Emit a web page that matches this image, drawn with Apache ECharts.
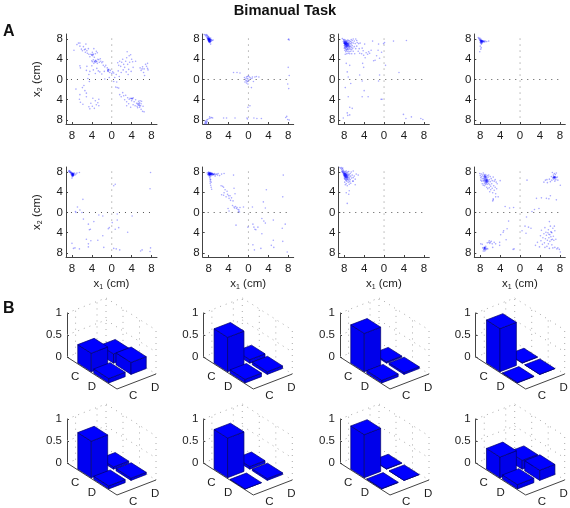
<!DOCTYPE html>
<html><head><meta charset="utf-8">
<style>html,body{margin:0;padding:0;background:#fff}#c{width:570px;height:508px}</style>
<script src="https://cdn.jsdelivr.net/npm/echarts@6/dist/echarts.min.js"></script>
</head><body><div id="c"></div>
<script>
const title = 'Bimanual Task';
const cats = ['C', 'D'];
const ticks = [-8, -4, 0, 4, 8];
// bar heights: [CC, CD, DC, DD]
const bars1 = [0.42, 0.21, 0.10, 0.27];
const bars2 = [0.78, 0.08, 0.08, 0.06];
const bars3 = [0.87, 0.03, 0.06, 0.04];
const bars4 = [0.98, 0.01, 0.01, 0.00];
const bars5 = [0.83, 0.05, 0.07, 0.05];
const bars6 = [0.90, 0.06, 0.00, 0.04];
const bars7 = [0.98, 0.01, 0.01, 0.00];
const bars8 = [0.47, 0.20, 0.10, 0.23];
const scatter1 = [[-7.6,5.8],[-7,6.9],[-6.7,7.2],[-6.4,7.2],[-6.4,6.6],[-6.1,6],[-5.9,5.7],[-5.7,6.5],[-5.5,5.9],[-5.3,6],[-5.2,7],[-5.3,5.4],[-5,5.7],[-4.9,5.2],[-4.7,6.1],[-4.6,5],[-4.4,4.5],[-4.2,5],[-4,4.9],[-3.9,5.4],[-3.8,4.7],[-3.7,5],[-3.6,6.1],[-3.5,4.4],[-3.3,5.1],[-3.1,5.6],[-2.9,5.3],[-4,3.7],[-3.9,3.5],[-3.7,3.9],[-3.6,3.2],[-3.4,3.6],[-3.3,3.4],[-3.2,3.8],[-3,3.6],[-2.9,3.2],[-2.8,4],[-2.6,3.9],[-2.5,3.4],[-2.3,4.1],[-2.2,3.6],[-2,3.3],[-1.8,3.5],[-1.7,2.8],[-1.4,2.5],[-1.2,2.8],[-0.9,2.3],[-0.8,1.9],[-0.7,1.6],[-0.6,2],[-0.4,1.4],[-0.3,1.8],[0,1.2],[0.2,1.5],[0.4,1.3],[-6.4,2.7],[-6.3,2.3],[-5,2.6],[-5.1,1.8],[-4.6,1],[-4.4,1.6],[-4,2.7],[-3.7,1.9],[-3.3,1.2],[-3,2.2],[-2.7,1.7],[-2.4,1.5],[-2,1.1],[-1.5,1.6],[-4.8,0.2],[-4.5,-0.4],[1.2,3.3],[1.4,2.8],[1.6,3.6],[1.8,2.6],[2,3.4],[2.2,4],[2.4,3],[2.6,2.4],[2.8,3.6],[3,4.3],[3.1,5.5],[3.2,3],[3.4,2],[3.5,4.7],[3.6,3.4],[3.8,4.9],[4,4],[4.2,3.5],[4.3,2.4],[4.8,3.6],[1.3,1.7],[1.9,1.4],[2.3,1.9],[2.9,1.5],[3.3,1],[3.9,1.6],[0.9,1],[1.5,0.6],[5.7,2.3],[5.9,1.8],[6.2,2.5],[6.4,1.4],[6.5,2.1],[6.6,0.8],[6.8,3],[7,2.6],[7.2,3.2],[7.3,1.9],[7.2,2.2],[6.1,2.1],[-7.2,-1.9],[-5.9,-1.6],[-5.6,-1.2],[-5.4,-2.2],[-5.1,-2.7],[-6.4,-3],[-6.5,-3.9],[-6.3,-4.5],[-5.8,-4.9],[-5.1,-3.4],[-4.6,-5.4],[-4.4,-5.8],[-4.2,-4.7],[-3.9,-5.3],[-3.8,-3.7],[-3.5,-5.7],[-3.3,-4.2],[-3.1,-5],[-2.8,-4.6],[-2.6,-5.2],[-2.6,-3.9],[0.8,-1.5],[1.1,-1.6],[1.4,-1.7],[1.6,-3],[1.9,-3.4],[2.2,-2.6],[2.4,-3.2],[2.6,-4],[2.8,-3.1],[3,-4.4],[3.2,-3.6],[3.4,-4.8],[3.5,-3.9],[3.7,-3.7],[3.9,-3.8],[4,-4.2],[4.1,-3.8],[4.3,-3.6],[4.3,-5],[4.5,-4.4],[4.7,-5.2],[4.8,-4],[5,-4.7],[5.1,-5.3],[5.2,-4.9],[5.2,-5.6],[5.4,-4.3],[5.5,-5],[5.6,-4.6],[5.6,-5.5],[5.7,-4.2],[5.8,-5.2],[5.9,-5.9],[5.9,-4.8],[6,-4.3],[6.2,-6.3],[6.5,-6.4],[6.3,-5.3],[3.8,-5.5],[3,-5.2],[0.4,-0.4],[0.6,0.4],[1,-0.5],[-0.5,0.4],[-1.4,0.1],[-4,4.8],[-3.8,5],[-3.5,3.5],[-3.3,3.7],[-3.1,3.5],[-0.8,1.7],[-0.7,1.9],[4,-3.7],[4.2,-3.8],[5.4,-5.1],[5.5,-4.8],[5.3,-4.7],[5.6,-5.2]];
const scatter2 = [[-8.9,8.9],[-8.7,8.8],[-8.6,8.6],[-8.5,8.9],[-8.4,8.7],[-8.4,8.4],[-8.3,8.8],[-8.3,8.2],[-8.2,8.6],[-8.2,8.3],[-8.1,8.5],[-8.1,8.1],[-8.1,7.9],[-8,8.4],[-8,8.2],[-8,8],[-8,7.9],[-8,7.7],[-8,7.5],[-7.9,8.3],[-7.9,8],[-7.9,7.9],[-7.9,7.8],[-7.9,7.6],[-7.9,7.4],[-7.8,8.1],[-7.8,7.9],[-7.8,7.7],[-7.8,7.5],[-7.8,7.3],[-7.7,8],[-7.7,7.8],[-7.7,7.6],[-7.7,7.4],[-7.6,8.2],[-7.6,7.8],[-7.6,7.5],[-7.5,7.9],[-7.5,7.6],[-7.4,7.8],[-7.3,7.7],[-7.1,7.8],[-7.6,7],[-8.1,8],[-8.1,7.8],[-8,7.8],[-8,7.6],[-7.9,7.7],[-7.9,7.5],[-7.8,7.8],[-7.8,7.6],[-7.7,7.7],[-7.7,7.5],[-8,8.1],[-7.9,8.1],[-8.2,8],[-8.2,8.1],[-7.9,7.9],[-7.8,8],[-7.8,7.9],[-7.7,7.9],[-8,7.9],[-8.1,7.7],[-8.8,-8.7],[-8.7,-8.4],[-8.6,-8.6],[-8.6,-8.2],[-8.5,-8.8],[-8.5,-8.4],[-8.4,-8.6],[-8.4,-8],[-8.3,-8.3],[-8.2,-7.9],[-7.9,-7.7],[-7.8,-7.4],[-7.6,-7.6],[-7.4,-7.5],[-7.2,-7.6],[-5,-7.6],[-4.4,-7.6],[-2.7,-7.6],[-0.3,-7.6],[-0.2,-7.8],[1.1,-7.6],[1.7,-7.7],[2.6,-7.7],[7.5,-7.5],[7.7,-7.3],[7.9,-7.9],[8.2,-8],[8.1,8],[8.2,7.8],[8,7.9],[8,2.4],[7.9,-0.9],[8.2,0.8],[8.1,-1.8],[-3,1.4],[-2.3,1.4],[-1.7,1.3],[-0.8,0.4],[-0.7,-0.5],[-0.6,0.1],[-0.5,-0.2],[-0.4,0.5],[-0.4,-0.7],[-0.3,-0.3],[-0.3,0.2],[-0.2,0.6],[-0.2,-0.4],[-0.1,0.1],[-0.1,-0.9],[0,0.7],[0.1,-0.2],[0.2,0.5],[0.4,0.3],[0.7,0.2],[0.8,0.5],[1,-0.4],[1.3,0.5],[1.6,0.6],[2.1,0.5],[0.6,-1.6],[0.3,-5.2],[-0.1,-5.5]];
const scatter3 = [[-8.4,8.1],[-8.2,7.9],[-8.2,7.5],[-8.1,7.7],[-8.1,7.2],[-8,7.9],[-8,7.5],[-8,7.1],[-8,6.7],[-8,6.2],[-7.9,7.6],[-7.9,7.3],[-7.9,7.1],[-7.9,6.8],[-7.9,6.4],[-7.9,5.8],[-7.8,7.8],[-7.8,7.4],[-7.8,7],[-7.8,6.6],[-7.8,6.2],[-7.8,5],[-7.7,7.5],[-7.7,7.2],[-7.7,6.9],[-7.7,6.5],[-7.7,6],[-7.7,5.5],[-7.6,7.7],[-7.6,7.3],[-7.6,7],[-7.6,6.7],[-7.6,6.3],[-7.6,5.7],[-7.5,7.4],[-7.5,7.1],[-7.5,6.8],[-7.5,6.4],[-7.5,5.9],[-7.5,5.1],[-7.4,7.6],[-7.4,7.2],[-7.4,6.9],[-7.4,6.5],[-7.4,6],[-7.3,7.8],[-7.3,7.1],[-7.3,6.6],[-7.3,6.1],[-7.3,5.6],[-7.2,7.4],[-7.2,7],[-7.2,6.4],[-7.2,5.2],[-7.1,7.7],[-7.1,7.1],[-7.1,6.7],[-7.1,5.9],[-7,7.3],[-7,6.8],[-7,6.2],[-7,5.5],[-6.9,7.6],[-6.9,6.5],[-6.9,5.1],[-6.8,7.1],[-6.8,6],[-6.7,7.5],[-6.7,6.6],[-6.7,5.6],[-6.6,7.9],[-6.6,7],[-6.6,6.3],[-6.5,7.3],[-6.5,5.9],[-6.5,5.1],[-6.4,7.7],[-6.4,6.7],[-6.3,6.2],[-6.2,8],[-6.2,7.2],[-6.2,5.6],[-6,7.6],[-6,6.5],[-5.9,5.1],[-5.8,7.1],[-5.7,8],[-5.7,6.1],[-5.5,7.7],[-5.5,6.6],[-5.4,7.3],[-5.2,5.6],[-5.1,7.1],[-5,6.1],[-4.9,5.2],[-4.8,7.2],[-4.5,5.1],[-4.4,6.2],[-4.2,5.7],[-4.1,4.8],[-3.9,7],[-3.8,4.3],[-3.6,5.3],[-3.3,5],[-3.1,5.5],[-2.9,5.2],[-2.6,5.8],[-2.3,7.6],[-2.1,3.7],[-1.8,3.8],[-1.5,4.7],[-1.2,5.8],[-1.1,7],[-0.9,4.2],[-0.5,5.4],[-4.3,3.2],[-4.1,2.4],[-7.6,3.2],[-6.9,2.8],[-7.4,1.5],[-7.2,0.5],[-6.7,-0.8],[-7.8,-1.6],[-7.2,-3.4],[-4,-2.2],[-4.4,-3.4],[-3.2,-3.4],[-0.6,-3.9],[-0.4,-3.9],[-6.9,-5.5],[-6.4,-5.7],[-7.4,-6.6],[-6.9,-7],[-7.3,-7.1],[-8.2,-7.6],[3.9,-6.9],[4.4,-7.7],[5.5,-7.4],[7.4,-7.7],[7.8,-7.9],[3,1.4],[4.5,7.7],[1.9,7.6],[-0.1,7.1],[0.1,7.3],[0.3,2.8],[-4.9,0.9],[-4.4,-0.3],[-1.1,-0.3],[-0.9,0.9],[-8,7.3],[-8,7.2],[-7.9,7.5],[-7.9,7.2],[-7.9,7],[-7.8,7.2],[-7.8,7.1],[-7.8,6.9],[-7.7,7.4],[-7.7,7.1],[-7.7,7],[-7.7,6.8],[-7.6,7.4],[-7.6,7.2],[-7.6,6.9],[-7.6,6.6],[-7.5,7.2],[-7.5,7],[-7.5,6.7],[-7.4,7.1],[-7.4,6.7],[-7.3,7],[-7.3,6.8],[-7.2,6.7],[-7.1,6.9],[-7,6.5]];
const scatter4 = [[-8.4,8.3],[-8.3,8.1],[-8.2,8],[-8.1,8.2],[-8.1,7.8],[-8,7.9],[-8,7.6],[-8,7.3],[-7.9,8],[-7.9,7.7],[-7.9,7.5],[-7.9,7.2],[-7.8,7.8],[-7.8,7.6],[-7.8,7.5],[-7.8,7.4],[-7.8,7],[-7.7,7.7],[-7.7,7.6],[-7.7,7.4],[-7.7,7.1],[-7.6,7.7],[-7.6,7.5],[-7.6,7.3],[-7.5,7.6],[-7.5,7.4],[-7.4,7.6],[-7.4,7.5],[-7.3,7.5],[-7.2,7.6],[-7.1,7.4],[-7,7.6],[-6.7,7.5],[-6.3,7.6],[-8,6.6],[-7.8,6.3],[-8.1,5.5],[-7.9,6],[-7.9,7.6],[-7.8,7.7],[-7.7,7.5],[-7.6,7.6],[-7.8,7.3],[-8,7.7]];
const scatter5 = [[-8.7,8.1],[-8.6,8.3],[-8.5,8],[-8.4,7.9],[-8.4,8.2],[-8.3,8],[-8.2,7.8],[-8.2,7.6],[-8.1,7.7],[-8.1,7.9],[-8.1,7.4],[-8,7.8],[-8,7.7],[-8,7.5],[-8,7.4],[-8,7.2],[-7.9,7.7],[-7.9,7.6],[-7.9,7.5],[-7.9,7.3],[-7.9,7.1],[-7.8,7.8],[-7.8,7.6],[-7.8,7.4],[-7.8,7.2],[-7.7,7.7],[-7.7,7.5],[-7.7,7.3],[-7.6,7.6],[-8,7.6],[-7.9,7.4],[-7.8,7.5],[-7.8,7.3],[-7.7,7.6],[-7.7,7.4],[-8.5,8.2],[-8.3,7.9],[-8.2,8],[-7.9,7.7],[-7.9,7.5],[-7.8,7.6],[-7.8,7.4],[-7.5,7.8],[-7.4,7.4],[-7.2,7.6],[-7,7.8],[-6.5,7.9],[-8,6.8],[-6.9,1.1],[-6.4,0.5],[-7.2,0],[-7.3,0.2],[-5.8,2.6],[-5.7,-1.3],[-6,0],[-4.7,-2.3],[-3.6,-1.8],[-4.3,-3.3],[-4.5,-3.4],[-5.1,-5.3],[-4.2,-5.6],[-4.7,-6.8],[-4.7,-6.2],[-2.8,-5.5],[-1.8,-4.6],[-1.6,-6.9],[-8,-6.1],[-7.7,-7.1],[-6.5,-7.2],[-7.4,-7],[-0.5,-3],[-0.7,-3.2],[0.1,-2],[1.1,-1.5],[0.7,-3.3],[1.4,-3],[3.2,-3.9],[0.7,5.6],[0.4,5.3],[7.8,7.9],[7.7,4.7],[0.4,-7.1],[0.9,-7.2],[1.6,-7.4],[5.8,-7.6],[6.1,-7.4],[7.8,-7],[7.7,-7.7],[-1.8,-0.7],[4.1,-0.7],[1.1,-0.3],[-2.6,-0.5]];
const scatter6 = [[-8.3,7.8],[-8.2,7.5],[-8.1,7.9],[-8.1,7.6],[-8,8],[-8,7.7],[-8,7.4],[-7.9,7.8],[-7.9,7.6],[-7.9,7.5],[-7.9,7.2],[-7.8,7.9],[-7.8,7.7],[-7.8,7.5],[-7.8,7.3],[-7.8,6.9],[-7.7,7.8],[-7.7,7.6],[-7.7,7.4],[-7.7,6.6],[-7.7,6.2],[-7.7,5.8],[-7.6,7.9],[-7.6,7.7],[-7.6,7.5],[-7.6,7.1],[-7.6,6.5],[-7.6,5.4],[-7.5,7.6],[-7.5,7.4],[-7.5,6],[-7.5,5],[-7.4,7.8],[-7.4,7.6],[-7.4,4.6],[-7.3,7.6],[-7.3,7.4],[-7.2,7.7],[-7.1,7.5],[-7,7.6],[-6.9,7.5],[-6.8,7.7],[-6.7,7.2],[-6.6,7.5],[-6.4,7.6],[-6.2,7.4],[-6.1,7.7],[-8,7.8],[-8,7.6],[-7.9,7.7],[-7.9,7.4],[-7.8,7.8],[-7.8,7.6],[-7.7,7.7],[-7.7,7.5],[-7.6,7.6],[-7.5,7.7],[-7.5,7.5],[-7.4,7.7],[-7.3,7.7],[-7.2,7.5],[-7,7.5],[-7.9,7.6],[-7.8,7.7],[-7.7,7.6],[-7.6,7.6],[-5.8,7.3],[-5.4,7.6],[-4.9,7.7],[-3,7.4],[-5.5,5.3],[-5.2,5.2],[-5,5],[-5.4,3.5],[-5,3.4],[-4.9,3.9],[-4.7,4.5],[-4.5,3.1],[-4.3,4.2],[-4.2,3.6],[-4,3.3],[-3.9,2.8],[-3.7,3.3],[-3.6,2.4],[-3.4,2.9],[-3.2,1.4],[-3.1,2.3],[-2.9,1.1],[-2.8,0.9],[-2.6,1.2],[-2.4,0.8],[-2.3,1],[-2.1,0.6],[-2,0.2],[-1.9,0.5],[-1.8,0.1],[-1.7,1],[-4.1,0.8],[-3.9,0.3],[-2.9,4.8],[-2.7,3.7],[-1,1.1],[0.8,1.1],[3.4,0.9],[3.6,4.5],[3,2.1],[2.7,-1.2],[7,7.4],[6.9,3.1],[-2.5,-2.5],[-0.1,-2.9],[0.9,-2.3],[1.1,-2.9],[1.3,-3.3],[1.5,-3.4],[1.9,-2.9],[2.7,-4.2],[3.1,-1.7],[3.4,-2.1],[5,-1.5],[6.8,-3.1],[7.4,-2.3],[0.9,-6.4],[1.2,-7.4],[2.5,-7.1],[4.6,-6.5],[5,-5.5],[5.1,-6.9],[6.9,-5.7],[7.8,-7.8]];
const scatter7 = [[-8.9,8.9],[-8.7,8.7],[-8.6,8.9],[-8.5,8.5],[-8.5,8.1],[-8.4,8.7],[-8.4,8.3],[-8.3,8.8],[-8.3,7.9],[-8.2,8.4],[-8.2,8],[-8.2,7.6],[-8.1,8.2],[-8.1,7.8],[-8.1,7.3],[-8,8],[-8,7.7],[-8,7.5],[-8,7.2],[-8,6.8],[-7.9,7.9],[-7.9,7.6],[-7.9,7.3],[-7.9,7],[-7.9,6.6],[-7.9,6],[-7.8,8.1],[-7.8,7.7],[-7.8,7.4],[-7.8,7.1],[-7.8,6.7],[-7.8,5.5],[-7.7,7.8],[-7.7,7.5],[-7.7,7.2],[-7.7,6.9],[-7.7,6.4],[-7.6,8.2],[-7.6,7.6],[-7.6,7.1],[-7.6,6.5],[-7.6,5.7],[-7.5,7.9],[-7.5,7.3],[-7.5,6.8],[-7.5,6.2],[-7.4,7.6],[-7.4,7],[-7.4,6.5],[-7.4,5.3],[-7.3,8],[-7.3,7.2],[-7.3,6.6],[-7.2,7.6],[-7.2,6.9],[-7.2,6],[-7.1,8.1],[-7.1,7.3],[-7.1,6.4],[-7,7.5],[-7,6.7],[-7,5.6],[-6.9,7],[-6.9,6.1],[-6.8,7.7],[-6.8,6.5],[-6.7,7.2],[-6.7,5.8],[-6.6,8],[-6.5,6.8],[-6.4,7.4],[-6.3,6.2],[-6.2,8.2],[-6.2,6.9],[-6.2,6.2],[-6,7.2],[-5.8,6.6],[-5.6,7.6],[-5.2,7.4],[-5.8,5.5],[-7.6,3.9],[-7.1,3.6],[-7.4,1.8],[-7,4.3],[-8,7.6],[-8,7.3],[-7.9,7.7],[-7.9,7.5],[-7.9,7.2],[-7.8,7.6],[-7.8,7.3],[-7.8,7],[-7.7,7.6],[-7.7,7.3],[-7.7,7],[-7.6,7.4],[-7.6,7.3],[-7.6,7],[-7.6,6.8],[-7.5,7.5],[-7.5,7.1],[-7.4,7.3],[-7.4,6.8],[-7.3,7],[-8.1,7.6],[-8.2,7.8],[-8.3,8.1],[-8.4,8]];
const scatter8 = [[-8.1,7.7],[-8,7.3],[-7.9,6.9],[-7.9,6.4],[-7.8,7.6],[-7.7,7.1],[-7.7,6.2],[-7.6,6.7],[-7.6,5.7],[-7.5,7.4],[-7.4,7.8],[-7.4,6.3],[-7.4,5.4],[-7.3,7.1],[-7.3,6.7],[-7.2,7.5],[-7.2,6.1],[-7.2,5.7],[-7.1,7.3],[-7.1,7],[-7.1,6.5],[-7.1,5.3],[-7,7.2],[-7,6.9],[-7,6.3],[-7,5.9],[-6.9,7.5],[-6.9,6.6],[-6.9,6.1],[-6.9,5.6],[-6.8,7.1],[-6.8,6.4],[-6.8,6.2],[-6.8,5.7],[-6.7,6.9],[-6.7,6.3],[-6.7,5.9],[-6.7,5],[-6.6,7.3],[-6.6,6.6],[-6.6,6],[-6.5,5.6],[-6.5,4.7],[-6.4,7],[-6.4,6.2],[-6.3,5.8],[-6.3,7.4],[-6.2,6.5],[-6.2,4.9],[-6.1,5.5],[-6.1,4.1],[-6,7.1],[-6,6.1],[-5.9,5.2],[-5.9,4.5],[-5.8,6.7],[-5.7,5.7],[-5.6,6.3],[-5.6,4.8],[-5.5,3.9],[-5.4,7],[-5.3,5.3],[-5.2,6.2],[-5.2,4.4],[-5,6.5],[-5,5],[-4.9,3.7],[-4.8,6],[-4.7,4.7],[-4.6,5.7],[-5.4,2.7],[-5.5,2.3],[-5.4,2.5],[-4.9,3.1],[-4.4,3.1],[-4,6.3],[6.1,6.1],[6.3,7.1],[6.4,6.4],[6.5,7.9],[6.6,6.8],[6.7,7.4],[6.7,6.9],[6.8,6.6],[6.8,7.1],[6.9,7.7],[6.9,6.9],[7,6.2],[7,7],[7.1,6.8],[7.1,7.5],[7.2,6.5],[7.3,7.8],[7.3,6.9],[7.5,7],[7.6,6.4],[4.8,6],[5.1,6.4],[5.4,6.5],[5.5,5.9],[5.9,6.6],[8.1,5.4],[3.3,2.8],[4.3,2.9],[5.3,2.8],[5.8,2.7],[7.3,2.5],[6.1,3.3],[1.4,6.4],[-1.3,1],[-2.1,0.9],[-3,1.2],[-2.3,-1.7],[-2.6,-3.2],[-3.3,-3.6],[-3.9,-4.4],[-2.8,-5.4],[-4.1,-5.9],[-1.4,-7.3],[1,-2.7],[1.7,-2.9],[2.4,0.2],[2.9,0.6],[3.8,0.8],[1.3,-0.9],[5.9,-1.8],[-7.9,-6.2],[-7.6,-6.3],[-7.5,-7],[-7.4,-7.6],[-7.3,-7.3],[-7.2,-6.9],[-7.2,-7.2],[-7.1,-6.9],[-7.1,-7.6],[-7,-7.1],[-7,-7.4],[-6.9,-6.7],[-6.8,-7.3],[-6.7,-7.1],[-6.6,-6],[-6.5,-7.2],[-6.3,-5.9],[-6.2,-5.6],[-6.1,-6.1],[-6,-5.9],[-5.8,-5.7],[-5.6,-6.2],[-5.5,-6.9],[-5.2,-5.9],[-4.9,-6.2],[-4.1,-6.5],[3.1,-6.5],[3.5,-5.9],[3.9,-6.8],[4.1,-4.6],[4.2,-5.6],[4.3,-3.5],[4.5,-6.3],[4.6,-5],[4.8,-4.2],[4.9,-6],[5,-3],[5,-6.9],[5.1,-5.2],[5.2,-3.9],[5.3,-4.5],[5.4,-6.7],[5.5,-5.5],[5.6,-4],[5.7,-3.4],[5.7,-6.2],[5.8,-5],[5.9,-7.1],[6,-4.4],[6,-5.7],[6.1,-2.7],[6.2,-3.8],[6.3,-5.4],[6.4,-4],[6.4,-6.4],[6.5,-5.3],[6.6,-3.1],[6.6,-7],[6.7,-4.7],[6.8,-5.5],[6.9,-2.7],[7,-3.6],[7,-6.9],[7.2,-5.3],[7.4,-7.2],[7.6,-7],[7.9,-7.3],[8.1,-7.8],[-1.2,-7.2],[1.2,-4.1],[-3.4,-3.9],[2.2,-3.1],[0.4,-3.6],[-7.1,7.2],[-7,7.1],[-7,6.8],[-6.9,7],[-6.9,6.3],[-6.8,6.6],[-6.8,6],[-6.7,6.5],[-6.7,6.2],[-6.6,6.3],[-7.2,6.8],[-7.2,6.4],[-6.5,6.1],[-6.5,6.4],[6.8,6.9],[6.9,7],[6.9,6.8],[7,6.9],[7,7.1],[7.1,7],[6.7,7],[-7.1,-7],[-7,-7],[-7.1,-7.2],[-7.2,-7],[5.8,-4.3],[6.3,-3.9],[6.2,-4.8]];

const scatterSets = [scatter1, scatter2, scatter3, scatter4, scatter5, scatter6, scatter7, scatter8];
const barSets = [bars1, bars2, bars3, bars4, bars5, bars6, bars7, bars8];

const FONT = '"Liberation Sans", Arial, sans-serif';
const INK = '#1c1c1c';
const AXIS = '#444';
const colX = [66, 202.7, 338.3, 474.3];
const scatterTop = [34, 167];
const barColX = [67, 203.3, 340, 475.7];
const barOrigin = [357, 463];
const Z_PX = 44;

// oblique floor projection: a runs along the near-left edge, b along the near-right edge
function plane(a, b, z) {
  return [50 * a + 39 * b, z + (15 * b - 32 * a) / Z_PX];
}
const A_SPAN = [[0.2, 0.47], [0.52, 0.82]];
const B_SPAN = [[0.02, 0.44], [0.59, 0.98]];

function renderBar(params, api) {
  const r = api.value(0), c = api.value(1), h = api.value(2);
  const [a0, a1] = A_SPAN[r], [b0, b1] = B_SPAN[c];
  const P = (a, b, z) => api.coord(plane(a, b, z));
  const edge = { stroke: '#00006e', lineWidth: 0.7, lineJoin: 'round' };
  const face = (pts, fill) => ({ type: 'polygon', shape: { points: pts }, style: { fill, ...edge } });
  return {
    type: 'group',
    children: [
      face([P(a0, b0, 0), P(a1, b0, 0), P(a1, b0, h), P(a0, b0, h)], '#0000f2'),
      face([P(a1, b0, 0), P(a1, b1, 0), P(a1, b1, h), P(a1, b0, h)], '#0000ea'),
      face([P(a0, b0, h), P(a1, b0, h), P(a1, b1, h), P(a0, b1, h)], '#0000ff')
    ]
  };
}

function renderFrame(params, api) {
  const P = (a, b, z) => api.coord(plane(a, b, z));
  const dot = (p, q) => ({
    type: 'line', shape: { x1: p[0], y1: p[1], x2: q[0], y2: q[1] },
    style: { stroke: '#aaa', lineWidth: 1, lineDash: [1, 5], fill: null }
  });
  const solid = (p, q) => ({
    type: 'line', shape: { x1: p[0], y1: p[1], x2: q[0], y2: q[1] },
    style: { stroke: AXIS, lineWidth: 1, fill: null }
  });
  const label = (t, p) => ({
    type: 'text',
    style: { text: t, x: p[0], y: p[1], fill: INK, font: '11.5px ' + FONT, textAlign: 'center', textVerticalAlign: 'middle' }
  });
  const kids = [];
  [0.5, 1].forEach(z => {
    kids.push(dot(P(0, 0, z), P(0, 1, z)));
    kids.push(dot(P(0, 1, z), P(1, 1, z)));
  });
  kids.push(dot(P(0, 0, 0), P(0, 1, 0)));
  kids.push(dot(P(0, 1, 0), P(1, 1, 0)));
  [0.22, 0.77, 1].forEach(b => kids.push(dot(P(0, b, 0), P(0, b, 1))));
  [0.34, 0.67, 1].forEach(a => kids.push(dot(P(a, 1, 0), P(a, 1, 1))));
  kids.push(solid(P(0, 0, 0), P(1, 0, 0)));
  kids.push(solid(P(1, 0, 0), P(1, 1, 0)));
  kids.push(label(cats[0], P(0.45, -0.37, 0)));
  kids.push(label(cats[1], P(0.77, -0.35, 0)));
  kids.push(label(cats[0], P(1.26, 0.08, 0)));
  kids.push(label(cats[1], P(1.27, 0.63, 0)));
  return { type: 'group', children: kids };
}

const grid = [], xAxis = [], yAxis = [], series = [];
const lblStyle = { color: INK, fontSize: 11.5, fontFamily: FONT };
const nameRich = {
  n: { fontSize: 11.5, fontFamily: FONT, color: INK },
  s: { fontSize: 7, fontFamily: FONT, color: INK, padding: [8, 0, 0, 0] }
};

scatterSets.forEach((pts, i) => {
  const col = i % 4, row = Math.floor(i / 4);
  grid.push({ left: colX[col], top: scatterTop[row], width: 91, height: 90 });
  xAxis.push({
    gridIndex: i, type: 'value', min: -9.2, max: 9.1, splitLine: { show: false },
    axisLine: { onZero: false, lineStyle: { color: AXIS } },
    axisTick: { inside: true, length: 2, customValues: ticks, lineStyle: { color: AXIS } },
    axisLabel: { ...lblStyle, margin: 6, customValues: ticks, formatter: v => String(Math.abs(v)) },
    name: row === 1 ? '{n|x}{s|1}{n| (cm)}' : '',
    nameLocation: 'middle', nameGap: 19, nameTextStyle: { rich: nameRich }
  });
  yAxis.push({
    gridIndex: i, type: 'value', min: -8.8, max: 9, splitLine: { show: false },
    axisLine: { onZero: false, lineStyle: { color: AXIS } },
    axisTick: { inside: true, length: 2, customValues: ticks, lineStyle: { color: AXIS } },
    axisLabel: { ...lblStyle, margin: 3, customValues: ticks, formatter: v => String(Math.abs(v)) },
    name: col === 0 ? '{n|x}{s|2}{n| (cm)}' : '',
    nameLocation: 'middle', nameGap: 22, nameTextStyle: { rich: nameRich }
  });
  const dotted = { color: '#555', width: 1, type: [1, 5] };
  series.push({ type: 'line', xAxisIndex: i, yAxisIndex: i, data: [[-8.2, 0], [8.5, 0]], symbol: 'none', silent: true, lineStyle: dotted, z: 1 });
  series.push({ type: 'line', xAxisIndex: i, yAxisIndex: i, data: [[0, 8.1], [0, -8.1]], symbol: 'none', silent: true, lineStyle: { ...dotted, color: '#888' }, z: 1 });
  series.push({
    type: 'scatter', xAxisIndex: i, yAxisIndex: i, data: pts, symbol: 'circle', symbolSize: 1.6,
    itemStyle: { color: '#0000ff', opacity: 0.34 }, silent: true, z: 2, animation: false
  });
});

barSets.forEach((vals, i) => {
  const idx = i + 8, col = i % 4, row = Math.floor(i / 4);
  grid.push({ left: barColX[col], top: barOrigin[row] - Z_PX, width: 89, height: Z_PX });
  xAxis.push({ gridIndex: idx, type: 'value', min: 0, max: 89, show: false, splitLine: { show: false } });
  yAxis.push({
    gridIndex: idx, type: 'value', min: 0, max: 1, interval: 0.5, splitLine: { show: false },
    axisLine: { show: true, onZero: false, lineStyle: { color: AXIS } },
    axisTick: { show: true, inside: true, length: 2, lineStyle: { color: AXIS } },
    axisLabel: { ...lblStyle, margin: 5, formatter: v => String(v) }
  });
  series.push({ type: 'custom', xAxisIndex: idx, yAxisIndex: idx, data: [[0, 0, 0]], renderItem: renderFrame, silent: true, z: 1, animation: false });
  // painter's order, far bar first: CD, CC, DD, DC
  const barData = [[0, 1, vals[1]], [0, 0, vals[0]], [1, 1, vals[3]], [1, 0, vals[2]]];
  series.push({ type: 'custom', xAxisIndex: idx, yAxisIndex: idx, data: barData, renderItem: renderBar, silent: true, z: 2, animation: false });
});

const chart = echarts.init(document.getElementById('c'), null, { renderer: 'canvas' });
chart.setOption({
  animation: false,
  backgroundColor: '#fff',
  title: { text: title, left: 'center', top: -2, textStyle: { fontFamily: FONT, fontWeight: 'bold', fontSize: 14.7, color: '#111' } },
  graphic: [
    { type: 'text', left: 3, top: 24, style: { text: 'A', font: 'bold 16px ' + FONT, fill: '#111' } },
    { type: 'text', left: 3, top: 301, style: { text: 'B', font: 'bold 16px ' + FONT, fill: '#111' } }
  ],
  grid, xAxis, yAxis, series
});
</script></body></html>
